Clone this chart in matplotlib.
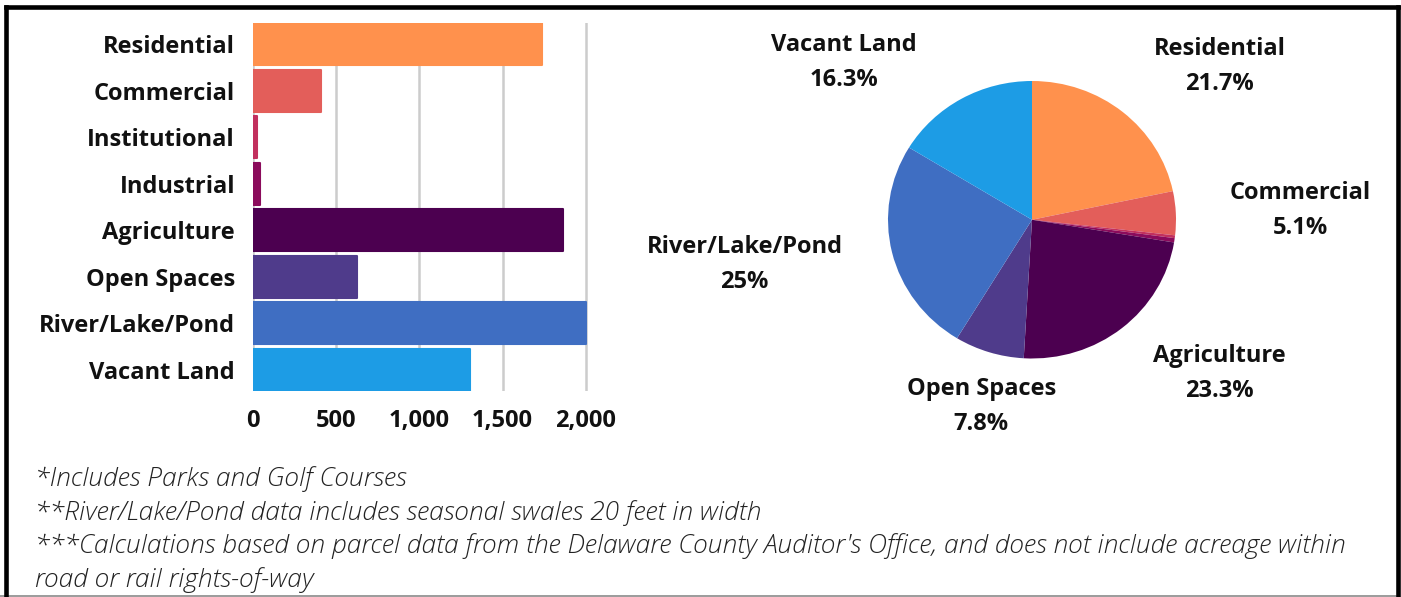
import numpy as np
import matplotlib
matplotlib.use("Agg")
import matplotlib.pyplot as plt
from matplotlib.lines import Line2D
from matplotlib.ticker import StrMethodFormatter

# Land use acreage by category
categories = ["Residential", "Commercial", "Institutional", "Industrial",
              "Agriculture", "Open Spaces", "River/Lake/Pond", "Vacant Land"]
acres = [1735, 408, 26, 40, 1863, 624, 1999, 1303]
colors = ["#FF914D", "#E35E5A", "#C2305E", "#8B0B5C",
          "#4C0050", "#4F3B8B", "#3F6EC2", "#1D9CE5"]
x_ticks = [0, 500, 1000, 1500, 2000]
pie_hidden = ["Institutional", "Industrial"]

footnotes = [
    "*Includes Parks and Golf Courses",
    "**River/Lake/Pond data includes seasonal swales 20 feet in width",
    "***Calculations based on parcel data from the Delaware County Auditor's Office, and does not include acreage within",
    "road or rail rights-of-way",
]

W, H = 1401, 597
fig = plt.figure(figsize=(W / 100, H / 100), dpi=100)
fig.patch.set_facecolor("white")

label_font = "Open Sans"
label_size = 17

# ---------------- horizontal bar chart ----------------
ax = fig.add_axes([253 / W, 1 - 391 / H, 336 / W, 368 / H])
y = np.arange(len(categories))
ax.barh(y, acres, height=0.9, color=colors, edgecolor=colors,
        linewidth=1.5, joinstyle="round", zorder=3)
ax.set_ylim(len(categories) - 0.55, -0.45)
ax.set_xlim(0, 2020)
ax.set_xticks(x_ticks)
ax.xaxis.set_major_formatter(StrMethodFormatter("{x:,.0f}"))
ax.set_yticks(y)
ax.set_yticklabels(categories)
ax.grid(axis="x", color="#cccccc", linewidth=1.8, zorder=0)
for s in ax.spines.values():
    s.set_visible(False)
ax.tick_params(axis="both", length=0)
ax.tick_params(axis="x", pad=13)
ax.tick_params(axis="y", pad=13)
for t in ax.get_xticklabels() + ax.get_yticklabels():
    t.set_fontfamily(label_font)
    t.set_fontweight("bold")
    t.set_fontsize(label_size)
    t.set_color("#111111")

# ---------------- pie chart ----------------
pax = fig.add_axes([888 / W, 1 - 358.5 / H, 288 / W, 277.5 / H])
wedges, _ = pax.pie(acres, colors=colors, startangle=90, counterclock=False,
                    wedgeprops=dict(linewidth=0))
pax.set_aspect("auto")
pax.set_xlim(-1, 1)
pax.set_ylim(-1, 1)
pax.axis("off")

total = float(sum(acres))
for w, name, val in zip(wedges, categories, acres):
    if name in pie_hidden:
        continue
    pct = 100 * val / total
    txt = f"{pct:.1f}"
    if txt.endswith(".0"):
        txt = txt[:-2]
    mid = np.deg2rad((w.theta1 + w.theta2) / 2)
    mid = np.arctan2(np.sin(mid), np.cos(mid))
    dx, dy = np.cos(mid), np.sin(mid)
    ha = "left" if dx > 0.35 else ("right" if dx < -0.35 else "center")
    va = "bottom" if dy > 0.35 else ("top" if dy < -0.35 else "center")
    # corner-anchored labels lean toward the diagonal
    ang = mid
    if ha != "center" and va != "center":
        diag = np.arctan2(np.sign(dy), np.sign(dx))
        ang = mid + 0.75 * (diag - mid)
    lx, ly = np.cos(ang), np.sin(ang)
    gap = 26 + 28 * lx ** 4
    pax.annotate(f"{name}\n{txt}%", xy=(lx, ly), xytext=(gap * lx, gap * ly),
                 textcoords="offset pixels", ha=ha, va=va, multialignment="center",
                 fontsize=label_size, linespacing=1.6, color="#111111",
                 family=label_font, weight="bold", annotation_clip=False)

# ---------------- footnotes ----------------
for i, line in enumerate(footnotes):
    fig.text(35 / W, 1 - (486 + 33.7 * i) / H, line, ha="left", va="baseline",
             fontsize=19, family="Open Sans", style="italic", weight=300,
             color="#222222")

# ---------------- frame ----------------
def fig_line(xs, ys, color, lw):
    fig.add_artist(Line2D([v / W for v in xs], [1 - v / H for v in ys],
                          transform=fig.transFigure, color=color, linewidth=lw,
                          solid_capstyle="projecting"))

fig_line([0, 1396], [595.5, 595.5], "#8a8a8a", 1.2)
fig_line([6, 6], [7, 597], "black", 3.3)
fig_line([1398, 1398], [7, 597], "black", 3.3)
fig_line([6, 1398], [7, 7], "black", 3.3)

fig.savefig("out.png", dpi=100, facecolor="white")
